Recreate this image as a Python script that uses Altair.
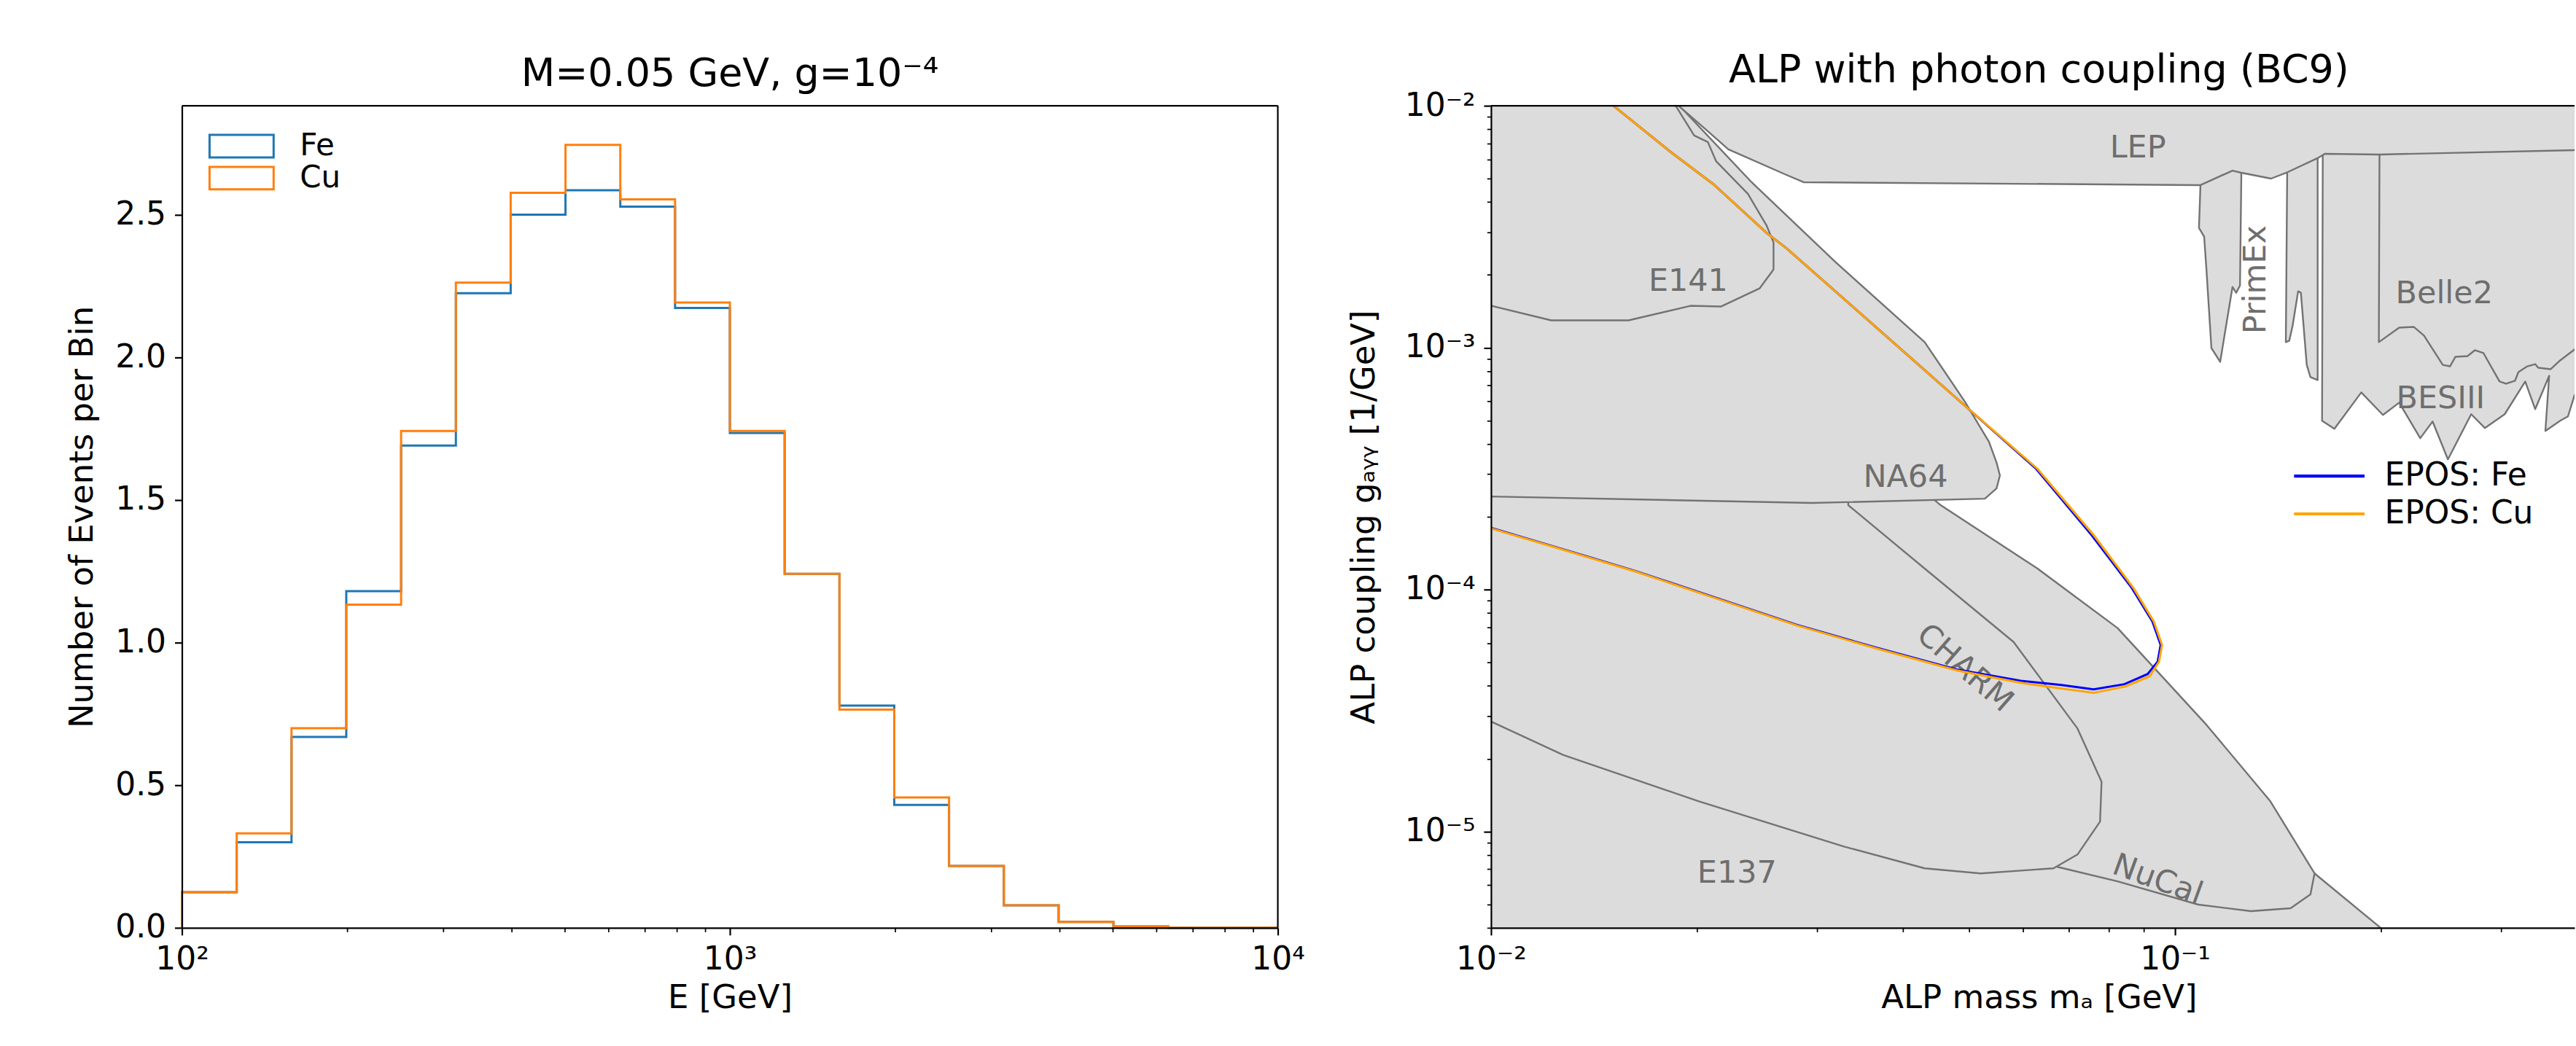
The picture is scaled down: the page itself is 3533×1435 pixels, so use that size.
import altair as alt
import pandas as pd

FONT = "DejaVu Sans"

# ---------------- Left panel: events per energy bin ----------------
BIN_EDGES = [100.0, 125.9, 158.5, 199.5, 251.2, 316.2, 398.1, 501.2, 631.0, 794.3,
             1000.0, 1258.9, 1584.9, 1995.3, 2511.9, 3162.3, 3981.1, 5011.9, 6309.6, 7943.3, 10000.0]
FE_COUNTS = [0.125, 0.300, 0.669, 1.180, 1.691, 2.225, 2.500, 2.586, 2.528, 2.173,
             1.735, 1.241, 0.779, 0.431, 0.217, 0.079, 0.021, 0.005, 0.0, 0.0]
CU_COUNTS = [0.125, 0.331, 0.700, 1.133, 1.742, 2.262, 2.577, 2.745, 2.554, 2.192,
             1.742, 1.241, 0.765, 0.457, 0.217, 0.079, 0.021, 0.005, 0.0, 0.0]
SAMPLES = ["Fe", "Cu"]
SAMPLE_COLORS = ["#1f77b4", "#ff7f0e"]
Y_MAX_LEFT = 2.882
E_MAJOR = [100, 1000, 10000]
E_MINOR = [k * 10 ** e for e in (2, 3) for k in range(2, 10)]
N_TICKS = [0.0, 0.5, 1.0, 1.5, 2.0, 2.5]

# ---------------- Right panel: ALP exclusion regions (log10 m, log10 g) ----------------
XMIN_R, XMAX_R = 0.01, 0.3838
YMIN_R, YMAX_R = 4e-6, 1e-2

E137 = [(-2.142, -4.325), (-1.554, -4.463), (-1.201, -4.6015), (-0.966, -4.767), (-0.8606, -4.9865),
        (-0.796, -5.173), (-0.702, -5.392), (-0.614, -5.606), (-2.142, -5.606), (-2.142, -4.325)]
NUCAL = [(-1.554, -3.555), (-1.389, -3.540), (-1.3426, -3.651), (-1.201, -3.913), (-1.084, -4.159),
         (-0.954, -4.559), (-0.8606, -4.875), (-0.796, -5.173), (-0.802, -5.260), (-0.831, -5.317),
         (-0.889, -5.329), (-0.966, -5.302), (-1.084, -5.206), (-1.172, -5.146), (-1.261, -4.737),
         (-1.554, -3.555)]
CHARM = [(-2.142, -3.555), (-1.4777, -3.555), (-1.4777, -3.651), (-1.366, -3.913), (-1.236, -4.2165),
         (-1.1426, -4.574), (-1.1074, -4.794), (-1.1096, -4.959), (-1.1426, -5.095), (-1.1777, -5.152),
         (-1.284, -5.173), (-1.366, -5.152), (-1.484, -5.062), (-1.696, -4.875), (-1.8947, -4.683),
         (-2.001, -4.544), (-2.142, -4.361), (-2.142, -3.555)]
NA64 = [(-2.1, -1.848), (-1.776, -1.848), (-1.7245, -2.0), (-1.619, -2.316), (-1.496, -2.647),
        (-1.366, -2.977), (-1.307, -3.224), (-1.272, -3.389), (-1.261, -3.474), (-1.256, -3.528),
        (-1.261, -3.582), (-1.278, -3.624), (-1.531, -3.642), (-2.001, -3.615), (-2.1, -3.612),
        (-2.1, -1.848)]
E141 = [(-2.1, -1.934), (-1.7436, -1.934), (-1.730, -2.0), (-1.703, -2.123), (-1.683, -2.150),
        (-1.671, -2.229), (-1.6245, -2.364), (-1.597, -2.496), (-1.587, -2.565), (-1.587, -2.677),
        (-1.6074, -2.755), (-1.664, -2.830), (-1.7085, -2.827), (-1.799, -2.887), (-1.912, -2.887),
        (-1.999, -2.827), (-2.1, -2.80), (-2.1, -1.934)]
BESIII = [(-0.784, -2.15), (-0.784, -2.2075), (-0.785, -3.302), (-0.767, -3.335), (-0.7277, -3.185),
          (-0.696, -3.278), (-0.6723, -3.227), (-0.6415, -3.374), (-0.6234, -3.305), (-0.601, -3.4617),
          (-0.567, -3.275), (-0.547, -3.332), (-0.518, -3.275), (-0.488, -3.140), (-0.4734, -3.254),
          (-0.453, -3.116), (-0.4585, -3.344), (-0.437, -3.302), (-0.4255, -3.284), (-0.416, -3.197),
          (-0.387, -3.077), (-0.387, -2.15), (-0.784, -2.15)]
BELLE2 = [(-0.701, -2.144), (-0.702, -2.977), (-0.6723, -2.917), (-0.651, -2.914), (-0.636, -2.950),
          (-0.6085, -3.071), (-0.598, -3.077), (-0.590, -3.0376), (-0.5723, -3.0346), (-0.5617, -3.0105),
          (-0.549, -3.0226), (-0.5255, -3.140), (-0.516, -3.149), (-0.503, -3.137), (-0.498, -3.101),
          (-0.485, -3.077), (-0.4734, -3.068), (-0.469, -3.083), (-0.451, -3.089), (-0.437, -3.0526),
          (-0.416, -3.0075), (-0.387, -2.950), (-0.387, -2.144), (-0.701, -2.144)]
PRIMEX_A = [(-0.9628, -2.25), (-0.9628, -2.328), (-0.965, -2.505), (-0.9574, -2.541), (-0.954, -2.680),
            (-0.9468, -3.0015), (-0.934, -3.0586), (-0.916, -2.749), (-0.9106, -2.773), (-0.905, -2.743),
            (-0.903, -2.277), (-0.903, -2.2), (-0.9628, -2.25)]
PRIMEX_B = [(-0.836, -2.2), (-0.836, -2.277), (-0.838, -2.977), (-0.833, -2.971), (-0.828, -2.908),
            (-0.820, -2.767), (-0.816, -2.773), (-0.8074, -3.071), (-0.802, -3.122), (-0.7915, -3.134),
            (-0.7915, -2.2256), (-0.7915, -2.15), (-0.836, -2.2)]
LEP = [(-1.752, -1.934), (-1.7245, -2.003), (-1.682, -2.108), (-1.653, -2.180), (-1.568, -2.286),
       (-1.543, -2.316), (-0.9628, -2.328), (-0.916, -2.268), (-0.903, -2.277), (-0.8596, -2.301),
       (-0.835, -2.274), (-0.7915, -2.2165), (-0.781, -2.1985), (-0.701, -2.2015), (-0.416, -2.1835),
       (-0.387, -2.180), (-0.387, -1.934), (-1.752, -1.934)]
REGIONS = [("E137", E137), ("NuCal", NUCAL), ("CHARM", CHARM), ("NA64", NA64), ("E141", E141),
           ("BESIII", BESIII), ("Belle2", BELLE2), ("PrimEx_a", PRIMEX_A), ("PrimEx_b", PRIMEX_B),
           ("LEP", LEP)]

REGION_LABELS = ["LEP", "E141", "NA64", "CHARM", "E137", "NuCal", "PrimEx", "Belle2", "BESIII"]
LABEL_LOGM = [-1.0543, -1.7117, -1.394, -1.3074, -1.6404, -1.0255, -0.882, -0.6064, -0.6117]
LABEL_LOGG = [-2.174, -2.725, -3.537, -4.325, -5.173, -5.200, -2.719, -2.776, -3.212]
LABEL_ANGLE = [0, 0, 0, 41, 0, 20, 270, 0, 0]

# EPOS sensitivity contours (log10 m, log10 g)
EPOS_CU_LOGM = [-1.821, -1.738, -1.6745, -1.597, -1.568, -1.3074, -1.201, -1.119, -1.0606, -1.031,
                -1.019, -1.0234, -1.037, -1.072, -1.119, -1.166, -1.2255, -1.319, -1.436, -1.554,
                -1.671, -1.789, -1.906, -2.0]
EPOS_CU_LOGG = [-2.0, -2.1895, -2.325, -2.526, -2.589, -3.239, -3.5008, -3.7744, -3.994, -4.132,
                -4.2286, -4.2977, -4.358, -4.400, -4.427, -4.409, -4.385, -4.334, -4.2436, -4.147,
                -4.036, -3.925, -3.8256, -3.747]
EPOS_FE_LOGM = [-1.821, -1.738, -1.6745, -1.597, -1.568, -1.3074, -1.203, -1.122, -1.063, -1.033,
                -1.021, -1.0254, -1.040, -1.074, -1.119, -1.166, -1.2255, -1.319, -1.436, -1.554,
                -1.671, -1.789, -1.906, -2.0]
EPOS_FE_LOGG = [-2.0, -2.1895, -2.325, -2.526, -2.589, -3.239, -3.5008, -3.7744, -3.994, -4.132,
                -4.2286, -4.2977, -4.349, -4.391, -4.412, -4.394, -4.377, -4.330, -4.2406, -4.145,
                -4.034, -3.923, -3.8236, -3.745]
MODELS = ["EPOS: Fe", "EPOS: Cu"]
MODEL_COLORS = ["#0000ff", "#ffa500"]

M_MAJOR = [0.01, 0.1]
M_MINOR = [k * 10 ** e for e in (-2, -1) for k in range(2, 10) if k * 10 ** e <= XMAX_R]
G_MAJOR = [0.01, 0.001, 0.0001, 0.00001]
G_MINOR = [k * 10 ** e for e in (-6, -5, -4, -3) for k in range(2, 10) if YMIN_R <= k * 10 ** e < YMAX_R]


# ---------------- helpers ----------------
def make_axis(**kw):
    base = dict(grid=False, domainColor="black", domainWidth=2.2, tickColor="black",
                tickSize=10, tickWidth=2.2,
                labelColor="black", titleColor="black", labelFont=FONT, titleFont=FONT,
                labelFontSize=44, titleFontSize=45, titleFontWeight="normal",
                labelFlush=False, labelOverlap=False, zindex=1, labelPadding=12,
                titlePadding=12)
    base.update(kw)
    return alt.Axis(**base)


def minor_axis(values, orient):
    return alt.Axis(values=values, orient=orient, tickSize=5.6, tickWidth=1.7, tickColor="black",
                    labels=False, domain=False, grid=False, title=None, zindex=1)


def title(text, offset, dx=0):
    return alt.TitleParams(text=text, font=FONT, fontSize=54, fontWeight="normal", color="black",
                           offset=offset, baseline="alphabetic", frame="group", anchor="middle", dx=dx)


# ---------------- left chart ----------------
rows = []
for name, counts in zip(SAMPLES, [FE_COUNTS, CU_COUNTS]):
    pts = [(BIN_EDGES[0], 0.0)]
    for k, c in enumerate(counts):
        pts += [(BIN_EDGES[k], c), (BIN_EDGES[k + 1], c)]
    pts.append((BIN_EDGES[-1], 0.0))
    for i, (e, c) in enumerate(pts):
        rows.append({"sample": name, "E": e, "n": c, "i": i})
hist = pd.DataFrame(rows)

xE = alt.Scale(type="log", domain=[100, 10000], nice=False)
yN = alt.Scale(domain=[0, Y_MAX_LEFT], nice=False, zero=False)

left_legend = alt.Legend(title=None, orient="none", legendX=61, legendY=34.5, padding=0,
                         symbolType="M-2.84,-1H2.84V1H-2.84Z", symbolSize=961, symbolStrokeWidth=3,
                         symbolFillColor="transparent", labelFont=FONT, labelFontSize=42,
                         labelColor="black", labelOffset=59, rowPadding=0, labelLimit=400)
color_left = alt.Color("sample:N", scale=alt.Scale(domain=SAMPLES, range=SAMPLE_COLORS),
                       legend=left_legend)

x_left_axis = make_axis(values=E_MAJOR, orient="bottom", title="E [GeV]", titlePadding=8,
                        labelExpr="datum.value == 100 ? '10²' : datum.value == 1000 ? '10³' : '10⁴'")
y_left_axis = make_axis(values=N_TICKS, orient="left", format=".1f", title="Number of Events per Bin",
                        titlePadding=22)

hist_layers = []
for idx, name in enumerate(SAMPLES):
    hist_layers.append(
        alt.Chart(hist).transform_filter(alt.datum.sample == name)
        .mark_line(strokeWidth=3, strokeJoin="miter")
        .encode(x=alt.X("E:Q", scale=xE, axis=x_left_axis if idx == 0 else None),
                y=alt.Y("n:Q", scale=yN, axis=y_left_axis if idx == 0 else None),
                color=color_left, order="i:Q")
    )

spine_left = pd.DataFrame({"x0": [100, 10000], "x1": [10000, 10000], "y0": [Y_MAX_LEFT, 0], "y1": [Y_MAX_LEFT, Y_MAX_LEFT]})
spines_l = alt.Chart(spine_left).mark_rule(color="black", strokeWidth=2.2).encode(
    x=alt.X("x0:Q", scale=xE, axis=minor_axis(E_MINOR, "bottom")), x2="x1:Q",
    y=alt.Y("y0:Q", scale=yN, axis=None), y2="y1:Q")

left = alt.layer(*hist_layers, spines_l).resolve_axis(x="independent", y="independent").properties(
    width=1506, height=1130, title=title("M=0.05 GeV, g=10⁻⁴", offset=-28))

# ---------------- right chart ----------------
xs = alt.Scale(type="log", domain=[XMIN_R, XMAX_R], nice=False)
ys = alt.Scale(type="log", domain=[YMIN_R, YMAX_R], nice=False)

x_right_axis = make_axis(values=M_MAJOR, orient="bottom", title="ALP mass mₐ [GeV]", titleX=753,
                         titlePadding=8, labelExpr="datum.value == 0.01 ? '10⁻²' : '10⁻¹'")
y_right_axis = make_axis(values=G_MAJOR, orient="left", title="ALP coupling gₐᵧᵧ [1/GeV]",
                         titlePadding=33,
                         labelExpr="datum.value == 0.01 ? '10⁻²' : datum.value == 0.001 ? '10⁻³' : datum.value == 0.0001 ? '10⁻⁴' : '10⁻⁵'")

region_layers = []
for idx, (name, pts) in enumerate(REGIONS):
    df = pd.DataFrame({"m": [10 ** p[0] for p in pts], "g": [10 ** p[1] for p in pts],
                       "i": list(range(len(pts))), "region": name})
    region_layers.append(
        alt.Chart(df).mark_line(filled=True, fill="#dcdcdc", stroke="#737373", strokeWidth=2.4,
                                strokeJoin="round", clip=True)
        .encode(x=alt.X("m:Q", scale=xs, axis=x_right_axis if idx == 0 else None),
                y=alt.Y("g:Q", scale=ys, axis=y_right_axis if idx == 0 else None),
                order="i:Q")
    )

labels_df = pd.DataFrame({"m": [10 ** v for v in LABEL_LOGM], "g": [10 ** v for v in LABEL_LOGG],
                          "text": REGION_LABELS, "ang": LABEL_ANGLE})
labels = alt.Chart(labels_df).mark_text(font=FONT, fontSize=43, color="#6e6e6e", align="center",
                                        baseline="middle").encode(
    x=alt.X("m:Q", scale=xs, axis=None), y=alt.Y("g:Q", scale=ys, axis=None),
    text="text:N", angle=alt.Angle("ang:Q", scale=None))

right_legend = alt.Legend(title=None, orient="none", legendX=1130, legendY=487, padding=0,
                          symbolType="M-3.1,0H3.1", symbolSize=976, symbolStrokeWidth=4.2,
                          labelFont=FONT, labelFontSize=44, labelColor="black", labelOffset=54,
                          rowPadding=8, labelLimit=600)
color_right = alt.Color("model:N", scale=alt.Scale(domain=MODELS, range=MODEL_COLORS), legend=right_legend)

curve_layers = []
for name, lm, lg in [("EPOS: Fe", EPOS_FE_LOGM, EPOS_FE_LOGG), ("EPOS: Cu", EPOS_CU_LOGM, EPOS_CU_LOGG)]:
    df = pd.DataFrame({"m": [10 ** v for v in lm], "g": [10 ** v for v in lg],
                       "i": list(range(len(lm))), "model": name})
    curve_layers.append(
        alt.Chart(df).mark_line(strokeWidth=3, clip=True).encode(
            x=alt.X("m:Q", scale=xs, axis=None), y=alt.Y("g:Q", scale=ys, axis=None),
            color=color_right, order="i:Q")
    )

spine_right = pd.DataFrame({"x0": [XMIN_R], "x1": [XMAX_R], "y0": [YMAX_R]})
spines_r = alt.Chart(spine_right).mark_rule(color="black", strokeWidth=2.2).encode(
    x=alt.X("x0:Q", scale=xs, axis=minor_axis(M_MINOR, "bottom")), x2="x1:Q",
    y=alt.Y("y0:Q", scale=ys, axis=minor_axis(G_MINOR, "left")))

right = alt.layer(*region_layers, labels, *curve_layers, spines_r).resolve_axis(
    x="independent", y="independent").properties(
    width=1489, height=1130, title=title("ALP with photon coupling (BC9)", offset=-44, dx=8.5))

chart = (
    alt.hconcat(left, right, spacing=293, bounds="flush")
    .resolve_scale(color="independent")
    .properties(padding={"left": 91, "top": 69, "right": 0, "bottom": 0})
    .configure(font=FONT)
    .configure_view(strokeWidth=0)
)

chart.save("out.html", embed_options={"renderer": "svg", "actions": False})
